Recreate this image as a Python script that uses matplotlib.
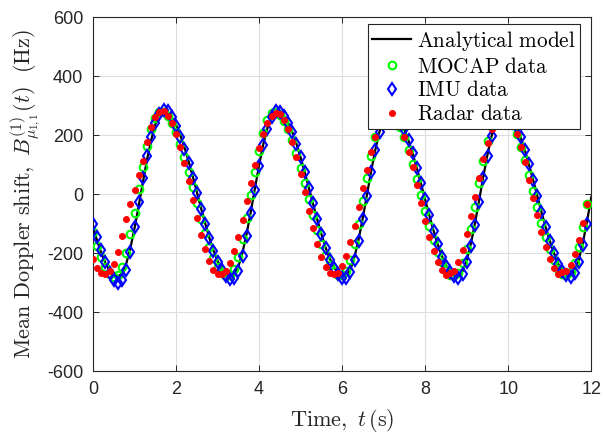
import numpy as np
import matplotlib
matplotlib.use("Agg")
import matplotlib.pyplot as plt

plt.rcParams['font.family'] = ['Liberation Sans', 'DejaVu Sans']
plt.rcParams['mathtext.fontset'] = 'cm'
plt.rcParams['axes.unicode_minus'] = False

# time grids (s)
t_model = np.round(np.arange(0, 12.001, 0.1), 2)
t_data = np.round(np.arange(0, 11.95, 0.1), 2)

model_vals = [-112, -159, -200, -234, -259, -275, -280, -269, -236, -183,
              -116, -40, 40, 116, 183, 236, 269, 280, 275, 259,
              234, 200, 159, 112, 61, 7, -47, -99, -148, -191,
              -227, -254, -272, -280, -274, -246, -198, -134, -60, 20,
              98, 168, 224, 262, 279, 277, 264, 241, 210, 170,
              124, 73, 20, -34, -87, -136, -181, -218, -248, -268,
              -279, -277, -255, -212, -151, -79, 0, 79, 151, 212,
              255, 277, 279, 268, 248, 218, 181, 136, 87, 34,
              -20, -73, -124, -170, -210, -241, -264, -277, -279, -262,
              -224, -168, -98, -20, 60, 134, 198, 246, 274, 280,
              272, 254, 227, 191, 148, 99, 47, -7, -61, -112,
              -159, -200, -236, -262, -276, -279, -261, -222, -163, -90,
              -10]

mocap_vals = [-130, -175, -215, -248, -270, -281, -276, -246, -199, -136,
              -63, 16, 93, 163, 220, 259, 277, 277, 264, 242,
              210, 171, 126, 76, 23, -31, -83, -133, -178, -216,
              -246, -267, -278, -276, -254, -212, -153, -82, -4, 75,
              147, 207, 251, 274, 278, 268, 248, 219, 182, 138,
              88, 36, -18, -71, -121, -168, -207, -239, -262, -276,
              -276, -262, -225, -169, -101, -24, 55, 129, 194, 242,
              270, 278, 271, 254, 227, 192, 150, 102, 50, -4,
              -57, -109, -156, -198, -232, -257, -273, -276, -267, -235,
              -185, -119, -43, 36, 112, 179, 232, 266, 278, 274,
              259, 235, 202, 161, 114, 63, 9, -45, -97, -145,
              -188, -225, -254, -272, -274, -266, -234, -181, -112, -34]

imu_vals = [-100, -145, -190, -232, -268, -290, -300, -292, -258, -196,
            -112, -28, 55, 128, 192, 242, 272, 284, 280, 262,
            230, 194, 152, 106, 56, 3, -50, -100, -150, -193,
            -230, -258, -278, -287, -284, -262, -210, -142, -66, 14,
            94, 166, 222, 262, 280, 279, 266, 242, 211, 171,
            126, 74, 22, -32, -86, -136, -182, -222, -252, -272,
            -284, -284, -264, -222, -160, -86, -6, 74, 148, 210,
            254, 276, 280, 270, 250, 220, 182, 138, 88, 36,
            -18, -72, -124, -170, -212, -244, -266, -279, -283, -270,
            -232, -176, -106, -28, 54, 130, 196, 245, 273, 281,
            274, 256, 228, 192, 150, 101, 48, -6, -60, -112,
            -158, -200, -236, -262, -276, -280, -268, -232, -174, -100]

radar_vals = [-220, -250, -268, -272, -262, -238, -195, -142, -85, -35,
              15, 65, 112, 175, 228, 262, 278, 283, 265, 241,
              205, 158, 104, 44, -19, -80, -138, -188, -228, -257,
              -272, -272, -261, -234, -194, -145, -87, -25, 38, 99,
              155, 203, 240, 265, 275, 271, 252, 221, 178, 127,
              68, 6, -56, -115, -169, -213, -247, -268, -270, -268,
              -245, -210, -163, -107, -45, 19, 83, 141, 192, 233,
              260, 274, 273, 258, 231, 192, 144, 90, 30, -30,
              -90, -144, -192, -231, -258, -273, -268, -260, -231, -189,
              -135, -75, -10, 56, 118, 174, 219, 252, 271, 274,
              264, 240, 205, 160, 107, 48, -12, -72, -129, -179,
              -220, -251, -270, -266, -262, -242, -204, -156, -99, -35]

x_ticks = [0, 2, 4, 6, 8, 10, 12]
y_ticks = [-600, -400, -200, 0, 200, 400, 600]

fig = plt.figure(figsize=(6.04, 4.37), dpi=100)
ax = fig.add_axes([0.154, 0.151, 0.825, 0.810])

axcol = '#262626'
ax.plot(t_model, model_vals, color='black', lw=1.6, label=r'$\mathrm{Analytical\ model}$', zorder=3)
ax.plot(t_data, mocap_vals, ls='none', marker='o', ms=5.5, mfc='none', mec=(0, 1, 0), mew=1.5,
        label=r'$\mathrm{MOCAP\ data}$', zorder=4)
ax.plot(t_data, imu_vals, ls='none', marker='d', ms=6.3, mfc='none', mec=(0, 0, 1), mew=1.5,
        label=r'$\mathrm{IMU\ data}$', zorder=5)
ax.plot(t_data, radar_vals, ls='none', marker='o', ms=4.4, mfc=(1, 0, 0), mec=(1, 0, 0), mew=0.6,
        label=r'$\mathrm{Radar\ data}$', zorder=6)

ax.set_xlim(0, 12)
ax.set_ylim(-600, 600)
ax.set_xticks(x_ticks)
ax.set_yticks(y_ticks)
ax.grid(True, color='#dedede', lw=0.8)
ax.set_axisbelow(True)
ax.tick_params(direction='in', length=4, width=0.7, top=True, right=True,
               labelsize=13, colors=axcol, pad=7)
for s in ax.spines.values():
    s.set_color(axcol)
    s.set_linewidth(0.8)

ax.set_xlabel(r'$\mathrm{Time,}\ t\,\mathrm{(s)}$', fontsize=16, color=axcol, labelpad=7)
ax.set_ylabel(r'$\mathrm{Mean\ Doppler\ shift,}\ B^{(1)}_{\mu_{1,1}}(t)\ \ \mathrm{(Hz)}$',
              fontsize=16, color=axcol, labelpad=3)

leg = ax.legend(loc='upper right', bbox_to_anchor=(0.978, 0.98), borderaxespad=0,
                fontsize=15.3, frameon=True, fancybox=False,
                framealpha=1, edgecolor=axcol, handlelength=1.8, handletextpad=0.3,
                labelspacing=0.18, borderpad=0.22)
leg.get_frame().set_linewidth(0.8)
leg.set_zorder(10)

fig.savefig('out.png', dpi=100)
